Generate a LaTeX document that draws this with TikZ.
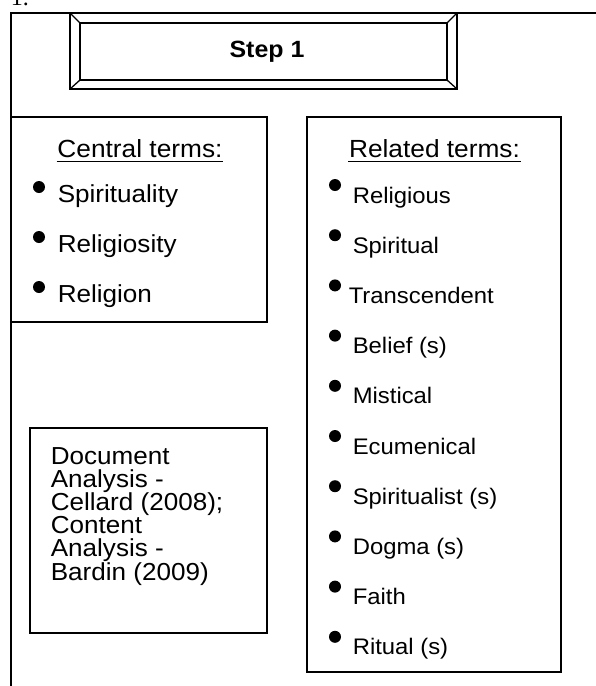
\documentclass[tikz,border=0pt]{standalone}
\usepackage{fontspec}
\setmainfont[FakeStretch=1.06]{Liberation Sans}
\newfontfamily\numfont{Liberation Serif}

\tikzset{
  headtxt/.style={anchor=base, inner sep=0pt, font=\fontsize{24.8}{26}\selectfont},
  centraltxt/.style={anchor=base west, inner sep=0pt, font=\fontsize{24.6}{26}\selectfont},
  relatedtxt/.style={anchor=base west, inner sep=0pt, font=\fontsize{22.5}{24}\selectfont},
  undl/.style={line width=1.4pt}
}

\begin{document}
\begin{tikzpicture}[x=1pt, y=-1pt, line width=1.6pt]
\useasboundingbox (0,0) rectangle (596,686);
% Page frame
    \draw (11,686) -- (11,13) -- (596,13);
    \node[anchor=base west, inner sep=0pt, font=\numfont\fontsize{24}{26}\selectfont] (num) at (10,5) {1.};
% Step box with bevel
    \draw (70,13) rectangle (457,89);
    \draw[line width=1.3pt] (80,23) rectangle (447,80);
    \draw[line width=1.3pt] (70,13) -- (80,23);
    \draw[line width=1.3pt] (457,13) -- (447,23);
    \draw[line width=1.3pt] (70,89) -- (80,80);
    \draw[line width=1.3pt] (457,89) -- (447,80);
    \node[anchor=base, inner sep=0pt, font=\bfseries\fontsize{23.5}{26}\selectfont] (step) at (267,57) {Step 1};
% Central terms
    \draw (11,117) rectangle (267,322);
    \node[headtxt] (central) at (140,157) {Central terms:};
    \draw[undl] ([yshift=-4.5pt]central.base west) -- ([yshift=-4.5pt]central.base east);
    \fill (39,187) circle (6pt);
    \node[centraltxt] (spirituality) at (57,202) {Spirituality};
    \fill (39,237) circle (6pt);
    \node[centraltxt] (religiosity) at (57,252) {Religiosity};
    \fill (39,287) circle (6pt);
    \node[centraltxt] (religion) at (57,302) {Religion};
% Methods (base is the last line)
    \draw (30,428) rectangle (267,633);
    \node[anchor=base west, inner sep=0pt, align=left, font=\fontsize{24.6}{23.2}\selectfont] (method) at (50,580)
        {Document\\Analysis -\\Cellard (2008);\\Content\\Analysis -\\Bardin (2009)};
% Related terms
    \draw (307,117) rectangle (561,672);
    \node[headtxt] (related) at (434.5,157) {Related terms:};
    \draw[undl] ([yshift=-4.5pt]related.base west) -- ([yshift=-4.5pt]related.base east);
    \fill (335,185) circle (6pt);
    \node[relatedtxt] (religious) at (352,203) {Religious};
    \fill (335,235.2) circle (6pt);
    \node[relatedtxt] (spiritual) at (352,253.2) {Spiritual};
    \fill (335,285.4) circle (6pt);
    \node[relatedtxt] (transcendent) at (348,303.4) {Transcendent};
    \fill (335,335.6) circle (6pt);
    \node[relatedtxt] (belief) at (352,353.6) {Belief (s)};
    \fill (335,385.8) circle (6pt);
    \node[relatedtxt] (mistical) at (352,403.8) {Mistical};
    \fill (335,436) circle (6pt);
    \node[relatedtxt] (ecumenical) at (352,454) {Ecumenical};
    \fill (335,486.2) circle (6pt);
    \node[relatedtxt] (spiritualist) at (352,504.2) {Spiritualist (s)};
    \fill (335,536.4) circle (6pt);
    \node[relatedtxt] (dogma) at (352,554.4) {Dogma (s)};
    \fill (335,586.6) circle (6pt);
    \node[relatedtxt] (faith) at (352,604.6) {Faith};
    \fill (335,636.8) circle (6pt);
    \node[relatedtxt] (ritual) at (352,654.8) {Ritual (s)};
\end{tikzpicture}
\end{document}
